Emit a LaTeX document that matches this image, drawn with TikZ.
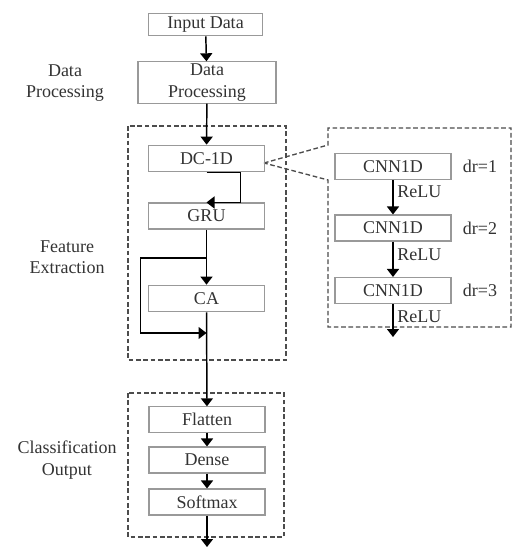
\documentclass[tikz,border=0pt]{standalone}
\usepackage{fontspec}
\setmainfont{Liberation Serif}
\usetikzlibrary{arrows.meta}

\tikzset{
  blk/.style={draw=gray!80, line width=0.8pt, text=black!80, minimum width=87pt, minimum height=19.5pt, inner sep=1pt},
  frm/.style={draw=black!70, line width=1pt, dash pattern=on 3.5pt off 2pt},
  arr/.style={draw=black, line width=1.1pt, -{Triangle[width=9pt,length=6pt]}},
  lbl/.style={text=black!80, align=center}
}

\begin{document}
\begin{tikzpicture}[x=0.75pt,y=0.75pt,yscale=-1,xscale=1, every node/.style={font=\fontsize{13.5pt}{16pt}\selectfont}]
\useasboundingbox (0,0) rectangle (513,547);

%Shape: Dashed frames
\draw[frm] (128,126) rectangle (286,360);
\draw[frm] (128,393) rectangle (284,537);
\draw[frm] (264,163) -- (328,145) -- (328,128) -- (511,128) -- (511,327) -- (328,327) -- (328,180) -- cycle;

%Shape: Rectangles
\node[blk, minimum width=86pt, minimum height=17pt] (inp) at (205.5,24.5) {Input Data};
\node[blk, minimum width=103.5pt, minimum height=31pt, align=center] (dp) at (207,82.5) {Data\\Processing};
\node[blk, minimum height=20pt] (dc) at (206.5,158.5) {DC-1D};
\node[blk] (gru) at (206.5,216) {GRU};
\node[blk, minimum height=20pt] (ca) at (206.5,298.5) {CA};
\node[blk, minimum height=19pt] (fl) at (207,419.5) {Flatten};
\node[blk] (dn) at (207,460) {Dense};
\node[blk] (sm) at (207,502) {Softmax};
\node[blk] (c1) at (393,166.5) {CNN1D};
\node[blk] (c2) at (393,228) {CNN1D};
\node[blk] (c3) at (393,290.5) {CNN1D};

\coordinate (sp) at (206.5,258);
\coordinate (jn) at (206.5,333);
\coordinate (out) at (207,547);
\coordinate (cout) at (393,337);

%Arrows
\draw[arr] (inp) -- (dp);
\draw[arr] (dp) -- (dc);
\draw[arr] (dc.south) -- ++(34,0) |- (gru.north);
\draw[arr] (gru) -- (ca);
\draw[arr] (sp) -- ++(-66,0) |- (jn);
\draw[arr] (ca) -- (fl);
\draw[arr] (fl) -- (dn);
\draw[arr] (dn) -- (sm);
\draw[arr] (sm) -- (out);
\draw[arr] (c1) -- (c2);
\draw[arr] (c2) -- (c3);
\draw[arr] (c3) -- (cout);

% Text Node
\node[lbl] (tdp) at (65,83) {Data\\Processing};
\node[lbl] (tfe) at (67,257) {Feature\\Extraction};
\node[lbl] (tco) at (67,460) {Classification\\Output};
% Text Node
\node[lbl, anchor=west, inner sep=0pt] (r1) at (397,192) {ReLU};
\node[lbl, anchor=west, inner sep=0pt] (r2) at (397,255) {ReLU};
\node[lbl, anchor=west, inner sep=0pt] (r3) at (397,317) {ReLU};
\node[lbl] (d1) at (480,166.5) {dr=1};
\node[lbl] (d2) at (480,228) {dr=2};
\node[lbl] (d3) at (480,290.5) {dr=3};

\end{tikzpicture}
\end{document}
